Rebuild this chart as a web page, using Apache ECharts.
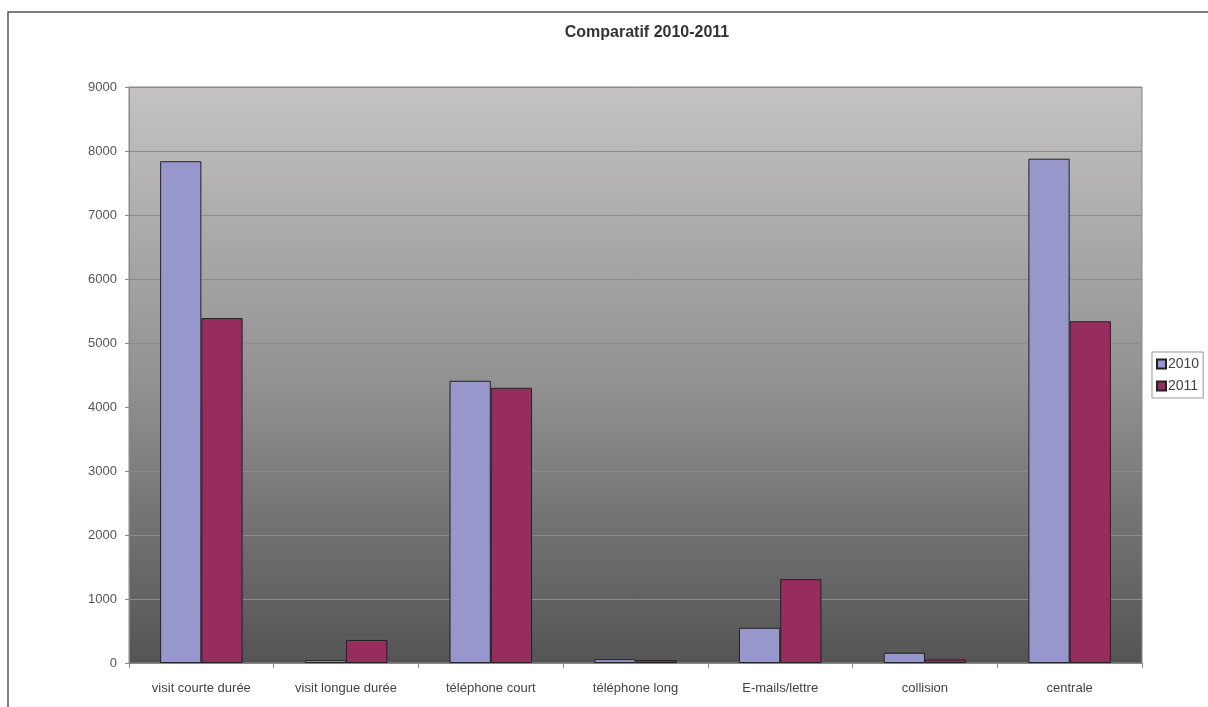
<!DOCTYPE html>
<html><head><meta charset="utf-8">
<script src="https://cdn.jsdelivr.net/npm/echarts@6/dist/echarts.min.js"></script>
<style>html,body{margin:0;padding:0;background:#fff}#c{width:1208px;height:707px}</style>
</head><body><div id="c"></div>
<script>
const categories = ['visit courte durée','visit longue durée','téléphone court','téléphone long','E-mails/lettre','collision','centrale'];
const values2010 = [7840, 45, 4410, 60, 550, 160, 7880];
const values2011 = [5390, 360, 4300, 45, 1310, 55, 5340];
const yTicks = [0, 1000, 2000, 3000, 4000, 5000, 6000, 7000, 8000, 9000];

const chart = echarts.init(document.getElementById('c'));
chart.setOption({
  animation: false,
  backgroundColor: '#ffffff',
  graphic: [{
    type: 'rect', shape: {x: 8, y: 12, width: 1400, height: 900},
    style: {fill: 'none', stroke: '#555', lineWidth: 1.5}, z: 100, silent: true
  }],
  title: {
    text: 'Comparatif 2010-2011', left: 642, top: 20, textAlign: 'center',
    textStyle: {fontFamily: 'Liberation Sans, Arial', fontSize: 16, fontWeight: 'bold', color: '#333'}
  },
  legend: {
    orient: 'vertical', left: 1152, top: 352,
    itemWidth: 9, itemHeight: 9, itemGap: 8,
    padding: [5, 4, 5, 4],
    borderColor: '#999', borderWidth: 1,
    icon: 'rect',
    textStyle: {fontFamily: 'Liberation Sans, Arial', fontSize: 14, color: '#444', padding: [0, 0, 0, -3]},
    data: ['2010', '2011']
  },
  grid: {
    left: 129, right: 66, top: 87, bottom: 44, containLabel: false,
    show: true, borderColor: '#888', borderWidth: 1,
    backgroundColor: {type: 'linear', x: 0, y: 0, x2: 0, y2: 1,
      colorStops: [{offset: 0, color: '#c4c2c2'}, {offset: 0.5, color: '#939393'}, {offset: 1, color: '#545454'}]}
  },
  xAxis: {
    type: 'category', data: categories,
    axisLine: {lineStyle: {color: '#888'}},
    axisTick: {show: true, length: 5, lineStyle: {color: '#888'}},
    axisLabel: {fontFamily: 'Liberation Sans, Arial', fontSize: 13, color: '#444', margin: 19, interval: 0}
  },
  yAxis: {
    type: 'value', min: yTicks[0], max: yTicks[yTicks.length - 1], interval: 1000,
    axisLine: {show: true, lineStyle: {color: '#888'}},
    axisTick: {show: true, length: 4, lineStyle: {color: '#888'}},
    axisLabel: {fontFamily: 'Liberation Sans, Arial', fontSize: 13, color: '#555', margin: 12,
      formatter: function (v) { return String(v); }},
    splitLine: {lineStyle: {color: '#8c8c8c', width: 1}}
  },
  series: [
    {name: '2010', type: 'bar', data: values2010, barGap: '0%', barCategoryGap: '43%',
     itemStyle: {color: '#9797cb', borderColor: '#222', borderWidth: 1}},
    {name: '2011', type: 'bar', data: values2011, barGap: '0%', barCategoryGap: '43%',
     itemStyle: {color: '#972d5f', borderColor: '#222', borderWidth: 1}}
  ]
});
</script></body></html>
